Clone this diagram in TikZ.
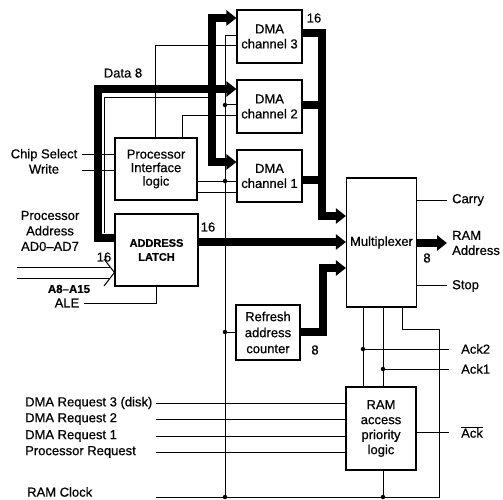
\documentclass[tikz,border=0pt]{standalone}
\usepackage{fontspec}
\setmainfont{Liberation Sans}[FakeBold=0.6]
\usetikzlibrary{arrows.meta}
\begin{document}
\begin{tikzpicture}[x=1pt,y=-1pt,
  box/.style={draw,line width=1.1pt,align=center,inner sep=0pt,font=\fontsize{13}{15}\selectfont},
  wire/.style={line width=1pt},
  bus/.style={line width=8pt,line join=miter,-{Triangle[length=10pt,width=15pt]}},
  busboth/.style={line width=8pt,line join=miter,{Triangle[length=10pt,width=15pt]}-{Triangle[length=10pt,width=15pt]}},
  busplain/.style={line width=8pt,line join=miter},
  lbl/.style={font=\fontsize{13}{15}\selectfont,inner sep=0pt,align=center},
  dot/.style={circle,fill,inner sep=0pt,minimum size=4.5pt}]
\useasboundingbox (0,0) rectangle (503,500);

% boxes
\node[box,minimum width=65pt,minimum height=53pt] (dma3) at (269.5,36.5) {DMA\\channel 3};
\node[box,minimum width=65pt,minimum height=53pt] (dma2) at (269.5,106.5) {DMA\\channel 2};
\node[box,minimum width=65pt,minimum height=52pt] (dma1) at (269.5,176) {DMA\\channel 1};
\node[box,minimum width=82pt,minimum height=62pt,font=\fontsize{13}{13.5}\selectfont] (pil) at (156,169) {Processor\\Interface\\logic};
\node[box,minimum width=83pt,minimum height=72pt,font=\bfseries\fontsize{11}{14}\selectfont] (latch) at (156.5,250) {ADDRESS\\LATCH};
\node[box,minimum width=70pt,minimum height=129pt] (mux) at (381.5,242.5) {Multiplexer};
\node[box,minimum width=64pt,minimum height=55pt,font=\fontsize{13}{16}\selectfont] (refresh) at (268,332.5) {Refresh\\address\\counter};
\node[box,minimum width=70pt,minimum height=83pt] (ram) at (381,428.5) {RAM\\access\\priority\\logic};

% thin wires
\draw[wire] (pil.north -| 155,0) -- (155,46) -- (dma3.west |- 0,46);
\draw[wire] (pil.north -| 182,0) -- (182,116) -- (dma2.west |- 0,116);
\draw[wire] (dma3.west |- 0,36) -- (225,36) -- (225,497);
\draw[wire] (225,105) -- (dma2.west |- 0,105);
\draw[wire] (pil.east |- 0,181) -- (dma1.west |- 0,181);
\draw[wire] (pil.east |- 0,192) -- (dma1.west |- 0,192);
\draw[wire] (225,332) -- (refresh.west |- 0,332);
\node[dot] (d1) at (225,105) {};
\node[dot] (d2) at (225,181) {};
\node[dot] (d3) at (225,332) {};
\node[dot] (d4) at (225,497) {};

\draw[wire] (82,154) -- (pil.west |- 0,154);
\draw[wire] (82,170) -- (pil.west |- 0,170);
\draw[wire] (84,303) -- (156,303) -- (latch.south -| 156,0);

% hollow double arrow into latch
\draw[wire] (17,267) -- (110,267);
\draw[wire] (17,278) -- (110,278);
\draw[wire] (104,259) -- (latch.west |- 0,272.5) -- (104,286);

% thin inner line of data bus
\draw[line width=0.7pt] (208,97) -- (104,97) -- (104,233);

% buses
\draw[bus] (latch.west |- 0,238) -- (98,238) -- (98,89) -- (dma2.west |- 0,89);
\draw[busboth] (dma3.west |- 0,18) -- (212,18) -- (212,162) -- (dma1.west |- 0,162);
\draw[bus] (dma3.east |- 0,33) -- (322,33) -- (322,216) -- (mux.west |- 0,216);
\draw[busplain] (dma2.east |- 0,105) -- (322,105);
\draw[busplain] (dma1.east |- 0,180) -- (322,180);
\draw[bus] (latch.east |- 0,242) -- (mux.west |- 0,242);
\draw[bus] (refresh.east |- 0,332) -- (323,332) -- (323,268) -- (mux.west |- 0,268);
\draw[bus] (mux.east |- 0,243) -- (447,243);

% right side wires
\draw[wire] (mux.east |- 0,200) -- (447,200);
\draw[wire] (mux.east |- 0,285) -- (447,285);
\draw[wire] (mux.south -| 363,0) -- (ram.north -| 363,0);
\draw[wire] (mux.south -| 383,0) -- (ram.north -| 383,0);
\draw[wire] (mux.south -| 402,0) -- (402,329) -- (439,329) -- (439,497) -- (156,497);
\draw[wire] (363,349) -- (449,349);
\draw[wire] (383,369) -- (449,369);
\draw[wire] (ram.east |- 0,432) -- (449,432);
\draw[wire] (ram.south -| 383,0) -- (383,497);
\node[dot] (d5) at (363,349) {};
\node[dot] (d6) at (383,369) {};
\node[dot] (d7) at (383,497) {};

% request lines
\draw[wire] (156,403) -- (ram.west |- 0,403);
\draw[wire] (156,419) -- (ram.west |- 0,419);
\draw[wire] (156,436) -- (ram.west |- 0,436);
\draw[wire] (156,452) -- (ram.west |- 0,452);

% labels
\node[lbl] (tdata) at (123,73) {Data 8};
\node[lbl] (tcs) at (44,155) {Chip Select};
\node[lbl] (twr) at (44,169) {Write};
\node[lbl,font=\fontsize{13}{15.5}\selectfont] (tpa) at (50,231) {Processor\\Address\\AD0–AD7};
\node[lbl] (t16a) at (104,257) {16};
\node[lbl,font=\bfseries\fontsize{11.5}{12}\selectfont] (ta8) at (69,289) {A8–A15};
\node[lbl] (tale) at (67,303) {ALE};
\node[lbl] (t16b) at (208,227) {16};
\node[lbl] (t16c) at (314,18) {16};
\node[lbl] (t8a) at (315,350) {8};
\node[lbl] (t8b) at (427,258) {8};
\node[lbl,anchor=west] (tcarry) at (452,200) {Carry};
\node[lbl,anchor=west,align=left] (tra) at (452,243) {RAM\\Address};
\node[lbl,anchor=west] (tstop) at (452,286) {Stop};
\node[lbl,anchor=west] (tack2) at (461,349) {Ack2};
\node[lbl,anchor=west] (tack1) at (461,369) {Ack1};
\node[lbl,anchor=west] (tackb) at (461,432) {$\overline{\mbox{Ack}}$};
\node[lbl,anchor=west] (tr3) at (25,403) {DMA Request 3 (disk)};
\node[lbl,anchor=west] (tr2) at (25,419) {DMA Request 2};
\node[lbl,anchor=west] (tr1) at (25,436) {DMA Request 1};
\node[lbl,anchor=west] (tpr) at (25,452) {Processor Request};
\node[lbl,anchor=west] (tclk) at (27,492) {RAM Clock};
\end{tikzpicture}
\end{document}
